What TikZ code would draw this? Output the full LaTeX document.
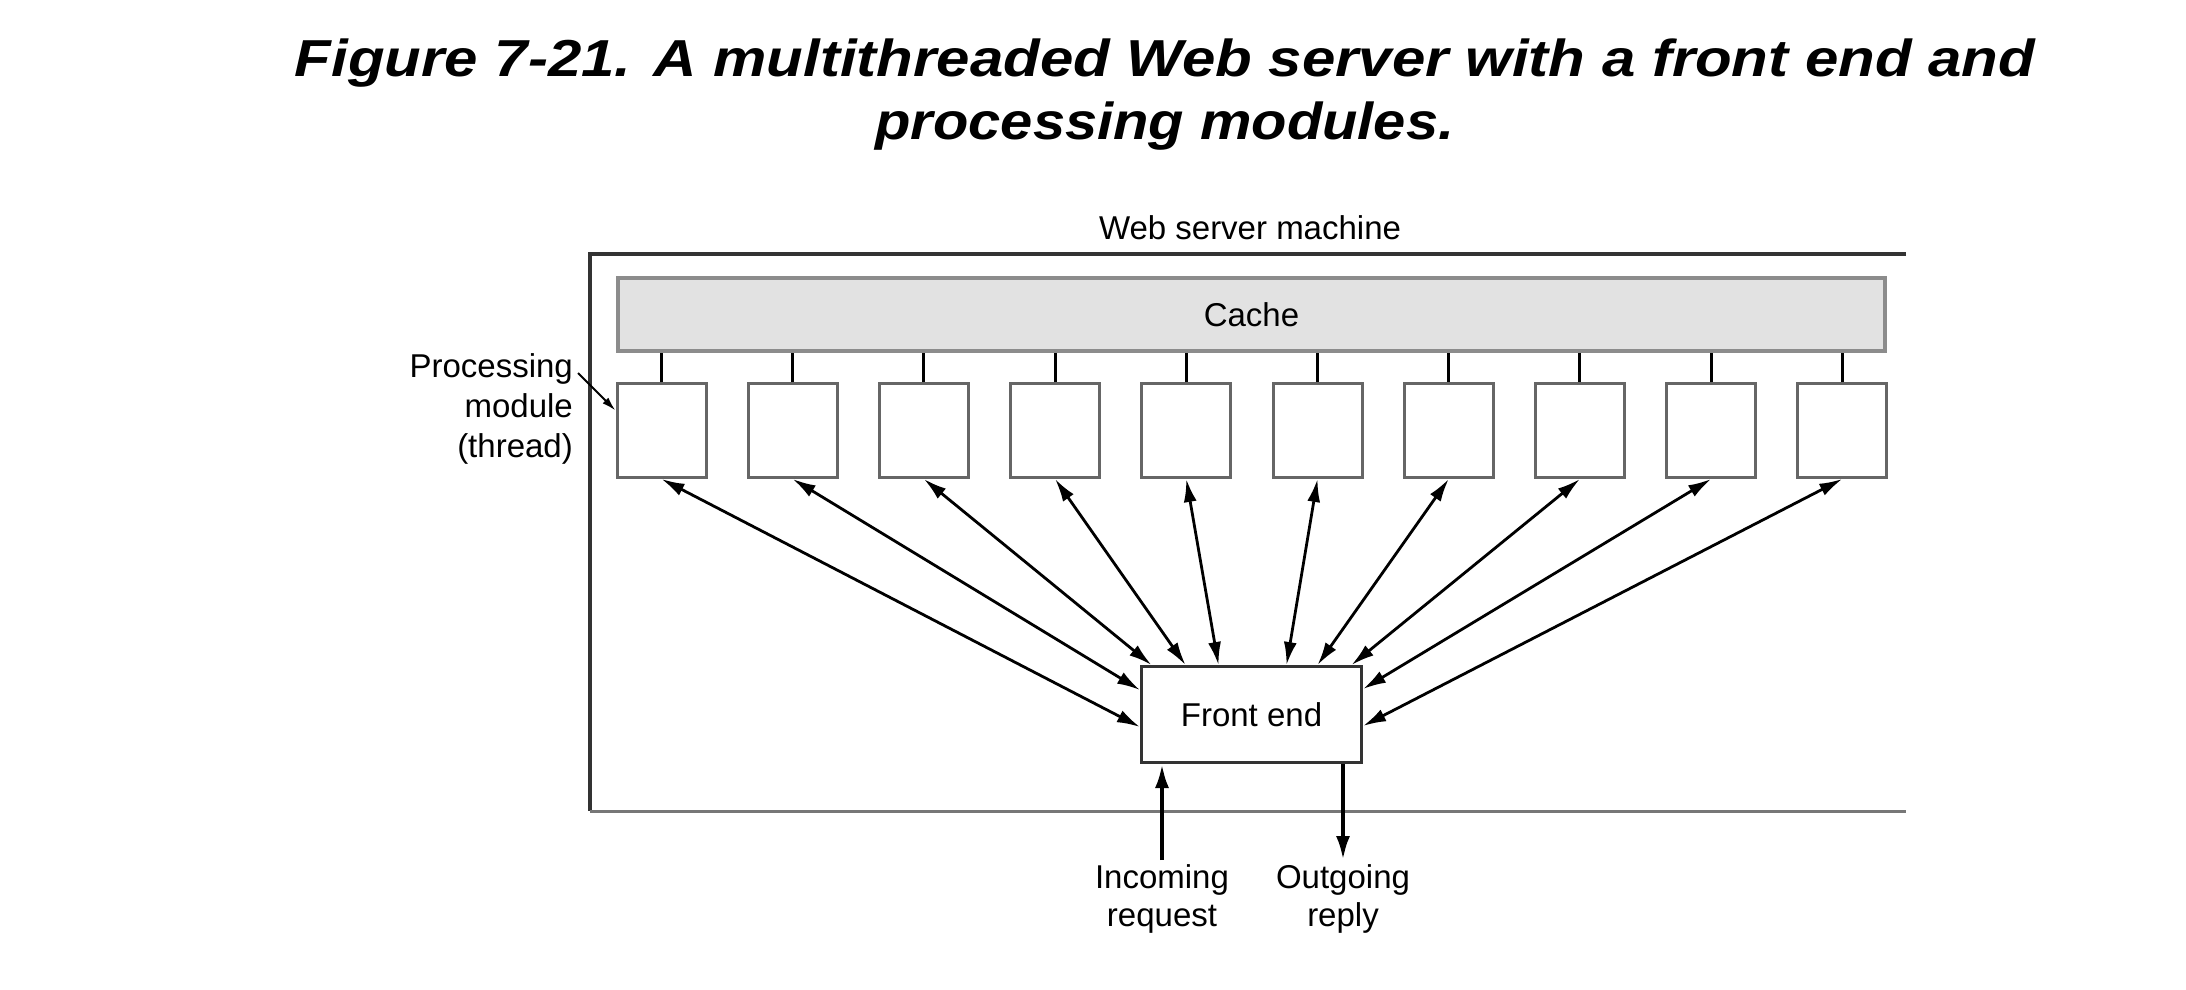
\documentclass[tikz,border=0pt]{standalone}
\usepackage{fontspec}
\setmainfont{Liberation Sans}
\usetikzlibrary{arrows.meta,calc}
\definecolor{cachefill}{HTML}{E2E2E2}
\definecolor{cacheline}{HTML}{8C8C8C}
\definecolor{modline}{HTML}{666666}
\definecolor{frameline}{HTML}{333333}
\definecolor{framebot}{HTML}{777777}
\begin{document}
\begin{tikzpicture}[x=1pt,y=-1pt,
  lbl/.style={font=\fontsize{33}{38}\selectfont, inner sep=0pt},
  modbox/.style={draw=modline, line width=3pt, fill=white, minimum width=89pt, minimum height=94pt, inner sep=0pt},
  cachebox/.style={draw=cacheline, line width=4pt, fill=cachefill, minimum width=1267pt, minimum height=73pt, inner sep=0pt, font=\fontsize{33}{38}\selectfont},
  febox/.style={draw=frameline, line width=3pt, fill=white, minimum width=220pt, minimum height=96pt, inner sep=0pt, font=\fontsize{33}{38}\selectfont},
  tie/.style={line width=3pt, black},
  biarrow/.style={line width=2.8pt, {Latex[length=23pt,width=13pt]}-{Latex[length=23pt,width=13pt]}},
  ioarrow/.style={line width=4pt, -{Latex[length=24pt,width=14pt]}},
  leader/.style={line width=2pt, -{Latex[length=14pt,width=8pt]}}
]
\useasboundingbox (0,0) rectangle (2186,989);
% title
\node[font=\fontsize{52}{63}\selectfont\bfseries\itshape, align=center, anchor=north, inner sep=0pt] (title) at (1165,39)
  {\scalebox{1.153}[1]{Figure 7-21. A multithreaded Web server with a front end and}\\
   \scalebox{1.113}[1]{processing modules.}};
% machine frame (open on the right)
\draw[frameline, line width=3.5pt] (1906,254) -- (590,254) -- (590,811);
\draw[framebot, line width=3pt] (590,811) -- (1906,811);
\node[lbl, anchor=base] (machine) at (1250,239) {Web server machine};
% cache
\node[cachebox] (cache) at (1251.5,314.5) {Cache};
% modules
\foreach \i in {1,...,10} {
  \node[modbox] (m\i) at ({661.5+131.2*(\i-1)},430.5) {};
  \draw[tie] (m\i.north) -- (m\i.north |- cache.south);
}
% front end
\node[febox] (fe) at (1251.5,714.5) {Front end};
% arrows modules <-> front end
\draw[biarrow] (m1.south) -- ([yshift=-12.5pt]fe.west);
\draw[biarrow] (m2.south) -- ([yshift=24.5pt]fe.west);
\draw[biarrow] (m3.south) -- ([xshift=-100pt]fe.north);
\draw[biarrow] (m4.south) -- ([xshift=-66pt]fe.north);
\draw[biarrow] (m5.south) -- ([xshift=-33pt]fe.north);
\draw[biarrow] (m6.south) -- ([xshift=35pt]fe.north);
\draw[biarrow] (m7.south) -- ([xshift=66pt]fe.north);
\draw[biarrow] (m8.south) -- ([xshift=100pt]fe.north);
\draw[biarrow] (m9.south) -- ([yshift=25.5pt]fe.east);
\draw[biarrow] (m10.south) -- ([yshift=-11.5pt]fe.east);
% processing module label
\node[lbl, font=\fontsize{33}{40}\selectfont, align=right, anchor=north east] (proc) at (573,353) {Processing\\module\\(thread)};
\coordinate (proctip) at (578,373);
\draw[leader] (proctip) -- ([yshift=20pt]m1.west);
% incoming / outgoing
\coordinate (incfoot) at (1162,860);
\coordinate (outfoot) at (1343,860);
\draw[ioarrow] (incfoot) -- (incfoot |- fe.south);
\draw[ioarrow] (outfoot |- fe.south) -- (outfoot);
\node[lbl, align=center, anchor=north] (inc) at (1162,864) {Incoming\\request};
\node[lbl, align=center, anchor=north] (out) at (1343,864) {Outgoing\\reply};
\end{tikzpicture}
\end{document}
